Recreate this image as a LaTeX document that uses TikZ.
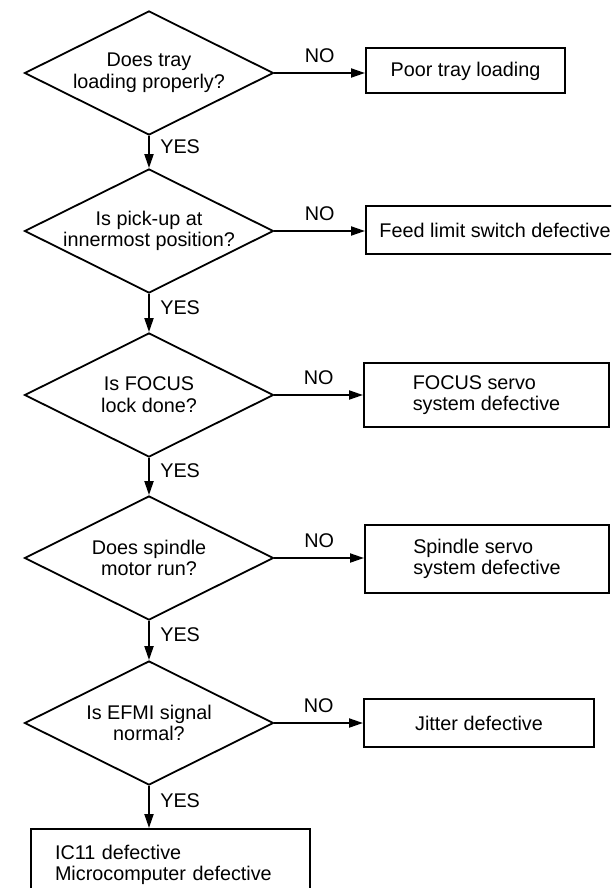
\documentclass[tikz,border=0pt]{standalone}
\usepackage{fontspec}
\setmainfont{Liberation Sans}
\usetikzlibrary{shapes.geometric,arrows.meta}
\tikzset{%
  decision/.style={
    diamond,
    draw,
    line width=1.8pt,
    aspect=2,
    minimum width=249pt,
    minimum height=124pt,
    inner sep=-3pt,
    align=center
  },
  fault/.style={
    rectangle,
    draw,
    line width=2pt,
    align=left
  },
  flow/.style={
    line width=2pt,
    -{Triangle[length=14pt,width=9pt]}
  },
}

\begin{document}
\begin{tikzpicture}[x=1pt,y=-1pt,font=\fontsize{19.8pt}{21.7pt}\selectfont]
          \useasboundingbox (0,0) rectangle (611,888);
          \clip (0,0) rectangle (611,888);
          % questions
          \node[decision] (q1) at (149,73) {Does tray\\loading properly?};
          \node[decision] (q2) at (149,231) {Is pick-up at\\innermost position?};
          \node[decision] (q3) at (149,395) {Is FOCUS\\lock done?};
          \node[decision] (q4) at (149,558) {Does spindle\\motor run?};
          \node[decision] (q5) at (149,723) {Is EFMI signal\\normal?};
          % faults
          \node[fault,minimum width=199pt,minimum height=45pt] (r1) at (465.5,71) {Poor tray loading};
          \node[fault,minimum width=258pt,minimum height=48pt] (r2) at (495,230) {Feed limit switch defective};
          \node[fault,minimum width=245pt,minimum height=64pt] (r3) at (486.5,395) {FOCUS servo\\system defective};
          \node[fault,minimum width=244pt,minimum height=68pt] (r4) at (487,559) {Spindle servo\\system defective};
          \node[fault,minimum width=230pt,minimum height=48pt] (r5) at (479,723) {Jitter defective};
          \node[fault,anchor=north,minimum width=279pt,minimum height=72pt,text width=231pt] (out) at (170.5,828) {IC11 defective\\Microcomputer defective};
          \foreach \i/\j in {1/2,2/3,3/4,4/5} {
              \draw[flow] (q\i) -- (q\j) node[pos=0.35,right=7pt] {YES};
          }
          \draw[flow] (q5.south) -- (q5.south |- out.north) node[pos=0.35,right=7pt] {YES};
          \foreach \i in {1,...,5} {
              \draw[flow] (q\i.east) -- (q\i.east -| r\i.west) node[midway,above=6pt] {NO};
          }
\end{tikzpicture}
\end{document}
